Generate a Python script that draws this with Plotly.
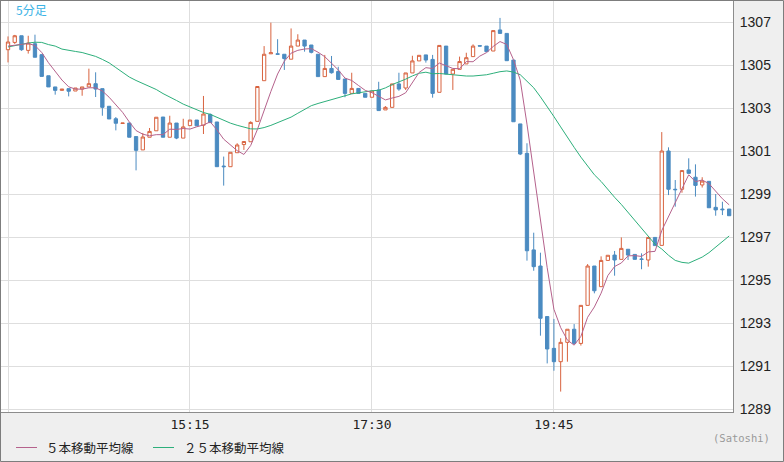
import pandas as pd
import plotly.graph_objects as go

# ---- data (5-minute bars from 13:00) ----
opens = [1305.71, 1306.05, 1306.36, 1305.68, 1305.99, 1305.48, 1304.50, 1303.98, 1303.82, 1303.90,
         1303.79, 1303.88, 1303.98, 1304.13, 1303.90, 1303.08, 1302.50, 1302.28, 1302.30, 1301.67,
         1301.05, 1301.64, 1301.94, 1302.58, 1301.64, 1302.30, 1301.60, 1302.18, 1302.44, 1302.20,
         1302.70, 1302.35, 1300.30, 1300.27, 1300.92, 1301.30, 1301.43, 1302.38, 1304.27, 1305.52,
         1305.52, 1305.50, 1305.27, 1305.88, 1306.16, 1305.93, 1305.50, 1304.46, 1304.84, 1304.70,
         1304.35, 1303.68, 1303.91, 1303.68, 1303.50, 1303.84, 1302.91, 1303.03, 1304.12, 1303.93,
         1304.63, 1305.19, 1305.47, 1305.26, 1303.73, 1305.88, 1304.58, 1304.80, 1305.05, 1305.39,
         1305.90, 1305.88, 1305.65, 1306.63, 1306.47, 1305.23, 1302.26, 1300.89, 1296.40, 1295.65,
         1293.30, 1291.82, 1291.20, 1292.10, 1292.71, 1292.05, 1293.82, 1295.65, 1294.69, 1295.91,
         1296.16, 1295.96, 1296.43, 1296.19, 1295.98, 1295.93, 1296.98, 1296.61, 1301.00, 1299.22,
         1299.22, 1300.12, 1299.78, 1299.42, 1299.59, 1298.38, 1298.30, 1298.30]
highs = [1306.33, 1306.40, 1306.36, 1306.36, 1306.41, 1305.50, 1304.50, 1303.98, 1303.88, 1303.90,
         1303.93, 1303.98, 1304.83, 1304.66, 1303.90, 1303.08, 1302.58, 1302.30, 1302.30, 1301.67,
         1301.84, 1302.07, 1302.57, 1302.58, 1302.64, 1302.30, 1302.50, 1302.44, 1302.44, 1303.56,
         1302.75, 1302.35, 1300.74, 1300.94, 1301.36, 1301.44, 1302.38, 1304.00, 1305.88, 1306.97,
         1306.20, 1305.50, 1306.70, 1306.43, 1306.16, 1305.93, 1305.50, 1305.47, 1305.42, 1304.92,
         1304.35, 1304.64, 1303.91, 1303.68, 1303.79, 1304.22, 1303.09, 1304.12, 1304.64, 1304.63,
         1305.43, 1305.45, 1305.47, 1305.47, 1305.91, 1305.88, 1304.80, 1305.39, 1305.57, 1305.96,
         1305.90, 1305.88, 1306.60, 1307.19, 1306.47, 1305.23, 1302.26, 1301.36, 1297.20, 1296.27,
         1293.30, 1293.19, 1292.29, 1292.71, 1292.95, 1293.82, 1295.74, 1295.65, 1296.10, 1296.15,
         1296.35, 1296.98, 1296.43, 1296.19, 1296.24, 1296.98, 1296.98, 1301.88, 1301.17, 1299.65,
         1300.09, 1300.66, 1300.38, 1299.78, 1299.59, 1299.00, 1298.64, 1298.30]
lows = [1305.12, 1305.98, 1305.66, 1305.53, 1305.36, 1304.47, 1303.98, 1303.62, 1303.82, 1303.54,
        1303.79, 1303.57, 1303.98, 1303.51, 1302.64, 1302.49, 1301.96, 1302.28, 1301.64, 1300.10,
        1301.05, 1301.64, 1301.94, 1301.64, 1301.64, 1301.55, 1301.60, 1302.18, 1302.17, 1301.79,
        1302.32, 1300.27, 1299.39, 1300.27, 1300.92, 1301.05, 1301.43, 1302.38, 1304.27, 1305.52,
        1305.50, 1304.77, 1305.27, 1305.88, 1305.62, 1305.54, 1304.46, 1304.46, 1304.60, 1304.33,
        1303.50, 1303.68, 1303.68, 1303.50, 1303.50, 1302.88, 1302.91, 1303.03, 1303.80, 1303.84,
        1304.63, 1305.19, 1305.11, 1303.48, 1303.73, 1304.58, 1303.84, 1304.80, 1305.05, 1305.39,
        1305.88, 1305.62, 1305.65, 1306.47, 1305.20, 1302.36, 1300.81, 1295.90, 1295.43, 1292.41,
        1291.12, 1290.78, 1289.81, 1291.20, 1292.05, 1291.95, 1293.82, 1294.38, 1294.69, 1295.91,
        1295.20, 1295.96, 1295.93, 1295.96, 1295.50, 1295.62, 1296.60, 1296.61, 1298.95, 1298.41,
        1299.06, 1299.96, 1298.88, 1299.30, 1298.36, 1297.99, 1298.02, 1297.99]
closes = [1306.07, 1306.36, 1305.71, 1306.02, 1305.36, 1304.47, 1303.98, 1303.82, 1303.88, 1303.78,
          1303.93, 1303.98, 1304.13, 1303.88, 1303.03, 1302.49, 1302.29, 1302.30, 1301.64, 1301.03,
          1301.65, 1301.91, 1302.57, 1301.64, 1302.30, 1301.60, 1302.12, 1302.44, 1302.17, 1302.72,
          1302.32, 1300.27, 1300.27, 1300.94, 1301.28, 1301.44, 1302.33, 1304.00, 1305.50, 1305.57,
          1305.50, 1305.30, 1305.88, 1306.16, 1305.88, 1305.59, 1304.46, 1304.84, 1304.64, 1304.33,
          1303.68, 1303.91, 1303.68, 1303.50, 1303.79, 1302.88, 1303.03, 1304.12, 1303.88, 1304.63,
          1305.19, 1305.45, 1305.23, 1303.68, 1305.91, 1304.58, 1304.80, 1305.16, 1305.34, 1305.88,
          1305.88, 1305.62, 1306.60, 1306.47, 1305.20, 1302.36, 1300.86, 1296.36, 1295.62, 1293.22,
          1291.79, 1291.20, 1292.10, 1292.71, 1292.05, 1293.82, 1295.65, 1294.50, 1295.91, 1296.15,
          1295.93, 1296.47, 1296.16, 1295.96, 1295.96, 1296.98, 1296.60, 1301.00, 1299.22, 1299.20,
          1300.09, 1299.96, 1299.40, 1299.60, 1298.36, 1298.26, 1298.27, 1297.99]

# moving-average values at the first bars (earlier bars are outside the chart)
ma5_head = [1305.88, 1305.93, 1305.96, 1306.00]
ma25_head = [1305.84, 1305.90, 1305.98, 1306.02, 1306.06, 1306.05, 1305.95, 1305.88, 1305.74, 1305.67,
             1305.63, 1305.58, 1305.49, 1305.40, 1305.26, 1305.10, 1304.88, 1304.67, 1304.44, 1304.28,
             1304.14, 1304.00, 1303.86, 1303.67]

x_tick_labels = ["", "15:15", "17:30", "19:45"]
x_tick_times = ["13:00", "15:15", "17:30", "19:45"]
y_ticks = [1289, 1291, 1293, 1295, 1297, 1299, 1301, 1303, 1305, 1307]

DAY = "2024-01-05 "
times = pd.date_range(DAY + "13:00", periods=len(closes), freq="5min")
cs = pd.Series(closes)
ma5 = cs.rolling(5).mean().tolist()
ma5[:len(ma5_head)] = ma5_head
ma25 = cs.rolling(25).mean().tolist()
ma25[:len(ma25_head)] = ma25_head

RED = "#d8633f"
BLUE = "#4b8bc1"
MA5C = "#b5628c"
MA25C = "#2daf7b"

fig = go.Figure()
fig.add_trace(go.Candlestick(
    x=times, open=opens, high=highs, low=lows, close=closes,
    increasing=dict(line=dict(color=RED, width=1), fillcolor="white"),
    decreasing=dict(line=dict(color=BLUE, width=1), fillcolor=BLUE),
    whiskerwidth=0, showlegend=False, hoverinfo="skip"))
fig.add_trace(go.Scatter(x=times, y=ma25, mode="lines", line=dict(color=MA25C, width=1),
                         showlegend=False, hoverinfo="skip"))
fig.add_trace(go.Scatter(x=times, y=ma5, mode="lines", line=dict(color=MA5C, width=1),
                         showlegend=False, hoverinfo="skip"))

W, H = 784, 462
L, R, T, B = 1, 51, 1, 50
pw, ph = W - L - R, H - T - B

def px(p):
    return (p - L) / pw

def py(p):
    return (H - B - p) / ph

step = pd.Timedelta(minutes=5)
x0 = times[0] - step * 1.04
x1 = times[0] + step * 107.57
y_lo = 1289 - (412 - 409) / 21.5
y_hi = 1307 + (22 - 1) / 21.5

fig.update_layout(
    width=W, height=H,
    margin=dict(l=L, r=R, t=T, b=B, pad=0),
    paper_bgcolor="#efefef", plot_bgcolor="white",
    xaxis=dict(
        range=[x0, x1], rangeslider=dict(visible=False),
        tickvals=[pd.Timestamp(DAY + t) for t in x_tick_times], ticktext=x_tick_labels,
        showgrid=True, gridcolor="#dedede", gridwidth=1,
        showline=True, mirror=True, linecolor="#8c8c8c", linewidth=1,
        ticks="", ticklabelstandoff=0,
        tickfont=dict(family="DejaVu Sans Mono", size=13, color="#222"),
        zeroline=False, fixedrange=True),
    yaxis=dict(
        range=[y_lo, y_hi], side="right", tickvals=y_ticks,
        ticktext=[str(v) for v in y_ticks],
        showgrid=True, gridcolor="#dedede", gridwidth=1,
        showline=True, mirror=True, linecolor="#8c8c8c", linewidth=1,
        ticks="", ticklabelstandoff=3,
        tickfont=dict(family="Liberation Sans", size=14, color="#222"),
        zeroline=False, fixedrange=True),
    font=dict(family="Noto Sans CJK JP"),
)

shapes = [
    dict(type="rect", xref="paper", yref="paper", x0=px(0.5), x1=px(W - 0.5), y0=py(0.5), y1=py(H - 0.5),
         line=dict(color="#7d7d7d", width=1), fillcolor="rgba(0,0,0,0)", layer="above"),
    dict(type="line", xref="paper", yref="paper", x0=px(16), x1=px(37), y0=py(447.5), y1=py(447.5),
         line=dict(color=MA5C, width=1)),
    dict(type="line", xref="paper", yref="paper", x0=px(153), x1=px(174), y0=py(447.5), y1=py(447.5),
         line=dict(color=MA25C, width=1)),
]
fig.update_layout(shapes=shapes)

ann = [
    dict(text="5分足", x=px(14), y=py(10), xanchor="left", yanchor="middle",
         font=dict(family="Noto Sans CJK JP", size=12, color="#3ab3e6")),
    dict(text="５本移動平均線", x=px(44), y=py(447.5), xanchor="left", yanchor="middle",
         font=dict(family="Noto Sans CJK JP", size=12.5, color="#222")),
    dict(text="２５本移動平均線", x=px(182), y=py(447.5), xanchor="left", yanchor="middle",
         font=dict(family="Noto Sans CJK JP", size=12.5, color="#222")),
    dict(text="(Satoshi)", x=px(772), y=py(437.5), xanchor="right", yanchor="middle",
         font=dict(family="DejaVu Sans Mono", size=10.5, color="#999")),
]
for a in ann:
    a.update(xref="paper", yref="paper", showarrow=False)
fig.update_layout(annotations=ann)

fig.write_html(
    "out.html",
    config={"displayModeBar": False},
    post_script="document.body.style.margin='0';document.body.style.overflow='hidden';",
)
